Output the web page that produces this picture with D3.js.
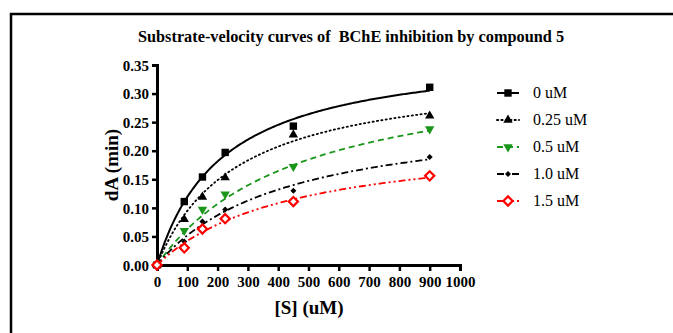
<!DOCTYPE html>
<meta charset="utf-8">
<style>
    body { margin: 0; background: #fff; overflow: hidden; }
    text { font-family: "Liberation Serif", "Times New Roman", serif; white-space: pre; }
</style>
<svg id="canvas" width="673" height="333"></svg>
<script src="https://d3js.org/d3.v7.min.js"></script>
<script>

    var substrate = [0, 90, 150, 225, 450, 900];
    var seriesNames = ["0 uM", "0.25 uM", "0.5 uM", "1.0 uM", "1.5 uM"];
    var rates0 = [0, 0.111, 0.154, 0.197, 0.243, 0.311];
    var rates025 = [0, 0.080, 0.119, 0.153, 0.228, 0.261];
    var rates05 = [0, 0.060, 0.097, 0.124, 0.172, 0.238];
    var rates10 = [0, 0.041, 0.076, 0.097, 0.130, 0.189];
    var rates15 = [0, 0.030, 0.063, 0.081, 0.111, 0.156];
    // Michaelis-Menten fit parameters
    var vmax = [0.379, 0.343, 0.358, 0.2725, 0.2285];
    var km = [218, 262, 470, 426, 444];
    var xTicks = [0, 100, 200, 300, 400, 500, 600, 700, 800, 900, 1000];
    var yTicks = [0, 0.05, 0.10, 0.15, 0.20, 0.25, 0.30, 0.35];

    var allRates = [rates0, rates025, rates05, rates10, rates15];
    var colors = ["#000", "#000", "#1a961a", "#000", "#ff0000"];
    var dashes = [null, "1.2,3.2", "6,4", "7,3,2,3", "7,3,2,3,2,3"];

    var svg = d3.select("svg");

    // frame
    svg.append("path").attr("d", "M11,333V14H673").attr("fill", "none")
       .attr("stroke", "#000").attr("stroke-width", 2.5);

    var x = d3.scaleLinear().domain([0, 1000]).range([157, 460]);
    var y = d3.scaleLinear().domain([0, 0.35]).range([265, 65]);

    svg.append("text").attr("x", 351).attr("y", 42).attr("text-anchor", "middle")
       .attr("font-weight", "bold").attr("font-size", 16.3)
       .text("Substrate-velocity curves of  BChE inhibition by compound 5");

    var xAxis = svg.append("g").attr("transform", "translate(0,265)")
        .call(d3.axisBottom(x).tickValues(xTicks).tickSize(6).tickPadding(5).tickFormat(d3.format("d")));
    var yAxis = svg.append("g").attr("transform", "translate(157,0)")
        .call(d3.axisLeft(y).tickValues(yTicks).tickSize(5).tickPadding(3).tickFormat(d3.format(".2f")));

    [xAxis, yAxis].forEach(function(a) {
        a.select(".domain").attr("stroke-width", 3).attr("stroke", "#000");
        a.selectAll(".tick line").attr("stroke-width", 2.5).attr("stroke", "#000");
        a.selectAll(".tick text").attr("font-family", "Liberation Serif").attr("font-weight", "bold")
         .attr("font-size", 15).attr("fill", "#000");
    });
    yAxis.selectAll(".tick text").attr("dy", "0.35em");

    svg.append("text").attr("x", 309).attr("y", 314).attr("text-anchor", "middle")
       .attr("font-weight", "bold").attr("font-size", 19).text("[S] (uM)");
    svg.append("text").attr("transform", "translate(118,165) rotate(-90)").attr("text-anchor", "middle")
       .attr("font-weight", "bold").attr("font-size", 19).text("dA (min)");

    var line = d3.line().x(function(d) { return x(d[0]); }).y(function(d) { return y(d[1]); });
    var sGrid = d3.range(0, 901, 5);

    function drawMarker(g, i, cx, cy) {
        var types = [d3.symbolSquare, d3.symbolTriangle, d3.symbolTriangle, d3.symbolSquare, d3.symbolSquare];
        var sizes = [55, 38, 38, 18, 42];
        var rot = [0, 0, 180, 45, 45];
        var m = g.append("path")
            .attr("d", d3.symbol().type(types[i]).size(sizes[i])())
            .attr("transform", "translate(" + cx + "," + cy + ") rotate(" + rot[i] + ")");
        if (i === 4) {
            m.attr("fill", "#fff").attr("stroke", colors[i]).attr("stroke-width", 2.2);
        } else {
            m.attr("fill", colors[i]);
        }
    }

    allRates.forEach(function(rates, i) {
        var g = svg.append("g");
        var curve = sGrid.map(function(s) { return [s, vmax[i] * s / (km[i] + s)]; });
        g.append("path").attr("d", line(curve)).attr("fill", "none")
         .attr("stroke", colors[i]).attr("stroke-width", i === 0 ? 2 : 1.8)
         .attr("stroke-linecap", i === 1 ? "round" : "butt")
         .attr("stroke-dasharray", dashes[i]);
        rates.forEach(function(v, k) {
            drawMarker(g, i, x(substrate[k]), y(v));
        });

        // legend
        var ly = 93 + i * 27;
        g.append("line").attr("x1", 497).attr("x2", 519).attr("y1", ly).attr("y2", ly)
         .attr("stroke", colors[i]).attr("stroke-width", 2)
         .attr("stroke-linecap", i === 1 ? "round" : "butt")
         .attr("stroke-dasharray", dashes[i]);
        drawMarker(g, i, 508, ly);
        g.append("text").attr("x", 533).attr("y", ly + 5).attr("font-size", 16).text(seriesNames[i]);
    });

</script>
